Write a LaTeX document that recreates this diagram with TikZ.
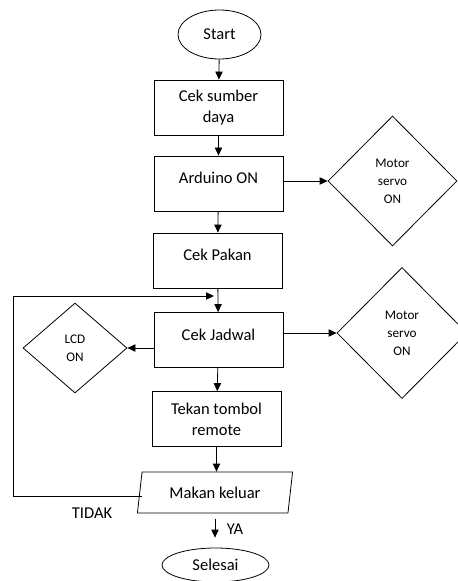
\documentclass[tikz,border=0pt]{standalone}
\usepackage{fontspec}
\setmainfont{Carlito}
\usepackage{tikz}
\usetikzlibrary{
  calc,              % coordinate math
  shapes.geometric,  % diamond, ellipse, trapezium
  arrows.meta
}

\begin{document}
\begin{tikzpicture}[x=0.75pt, y=-0.75pt,
    every node/.style={font=\fontsize{12.4}{15.75}\selectfont, align=center, inner sep=0pt},
    prosesbox/.style={draw, minimum width=96.75pt, minimum height=41.25pt},
    prosesatas/.style={prosesbox, text height=9pt, text depth=9pt},
    terminal/.style={draw, ellipse},
    keputusan/.style={draw, diamond, font=\fontsize{9.9}{13.5}\selectfont},
    masukan/.style={draw, trapezium, trapezium left angle=76, trapezium right angle=104,
      trapezium stretches=true, minimum width=117pt, minimum height=30.75pt},
    panah/.style={-{Triangle[length=6pt,width=5.5pt]}, line width=0.6pt}]
    \useasboundingbox (0,0) rectangle (457,581);
    \tikzset{every path/.style={line width=0.6pt}}
    % alur utama
    \node[terminal, minimum width=62.25pt, minimum height=36.75pt] (mulai) at (219.5,34.5) {Start};
    \node[prosesbox] (sumber) at (218.5,107.5) {Cek sumber\\daya};
    \node[prosesatas] (arduino) at (218.5,183.5) {Arduino ON};
    \node[prosesatas] (pakan) at (217.5,260.5) {Cek Pakan};
    \node[prosesatas] (jadwal) at (218.5,340) {Cek Jadwal};
    \node[prosesbox] (tekan) at (216.5,419) {Tekan tombol\\remote};
    \node[masukan] (keluar) at (215,492.5) {Makan keluar};
    \node[terminal, minimum width=80.25pt, minimum height=25.5pt] (selesai) at (215.5,565) {Selesai};
    % cabang samping
    \node[keputusan, minimum width=96.75pt, minimum height=97.5pt] (servoa) at (392.5,181) {Motor\\servo\\ON};
    \node[keputusan, minimum width=97.5pt, minimum height=98.25pt] (servob) at (402,333) {Motor\\servo\\ON};
    \node[keputusan, minimum width=78pt, minimum height=67.5pt] (lcd) at (75,348) {LCD\\ON};
    \node (tidak) at (92,513) {TIDAK};
    \node (ya) at (235,529) {YA};

    \draw[panah] (mulai) -- (sumber);
    \draw[panah] (sumber) -- (arduino);
    \draw[panah] (arduino) -- (pakan);
    \draw[panah] (pakan) -- (jadwal);
    \draw[panah] (jadwal) -- (tekan);
    \draw[panah] (tekan.south) -- (tekan.south |- keluar.north);
    \draw[panah] (arduino.east |- servoa.west) -- (servoa.west);
    \draw[panah] (jadwal.east |- servob.west) -- (servob.west);
    \draw[panah] (jadwal.west |- lcd.east) -- (lcd.east);
    \draw[panah, shorten <=4pt, shorten >=7.5pt] (keluar.south) -- (keluar.south |- selesai.north);
    % kembali ke cek jadwal
    \coordinate (balik) at (13,296);
    \coordinate (masuk) at (214,296);
    \draw[panah] ([xshift=2pt,yshift=-2.6pt]keluar.west) -| (balik) -- (masuk);
\end{tikzpicture}
\end{document}
